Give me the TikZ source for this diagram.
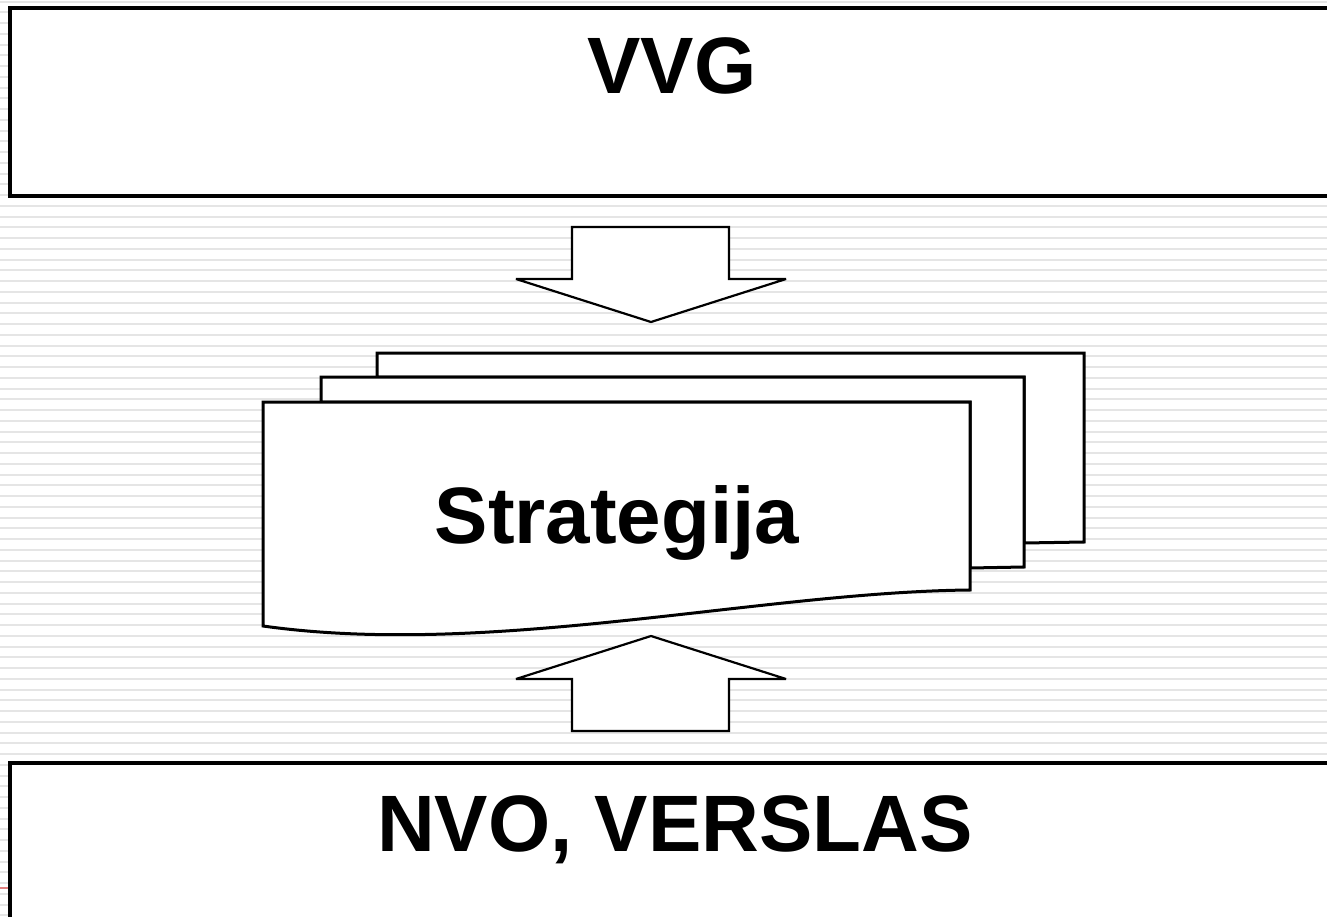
\documentclass[tikz,border=0pt]{standalone}
\usepackage{fontspec}
\setmainfont{Liberation Sans}
\begin{document}
\begin{tikzpicture}[x=1pt,y=-1pt,
  stripe/.style={draw=black!10,line width=2pt},
  boxline/.style={draw=black,line width=3.5pt,fill=white},
  shapeline/.style={draw=black,line width=3pt,fill=white,line join=miter},
  arrowline/.style={draw=black,line width=2.2pt,fill=white,line join=miter,miter limit=2},
  bigtext/.style={font=\fontsize{80}{96}\selectfont\bfseries,inner sep=0pt,anchor=base}]
\useasboundingbox (0,0) rectangle (1327,917);
\begin{scope}
\clip (0,0) rectangle (1327,917);
\fill[white] (0,0) rectangle (1327,917);
\foreach \k in {0,...,85} {
  \draw[stripe] (0,{1.7+10.75*\k}) -- (1327,{1.7+10.75*\k});
}
% top box
\draw[boxline] (10,8) rectangle (1345,196);
\node[bigtext] (vvg) at (672,94) {VVG};
% bottom box
\draw[boxline] (10,763) rectangle (1345,935);
\node[bigtext] (nvo) at (675,851) {NVO, VERSLAS};
\draw[draw={rgb,255:red,224;green,128;blue,128},line width=2pt] (0,888) -- (8,888);
% down arrow
\draw[arrowline] (572,227) -- (729,227) -- (729,279) -- (786,279) -- (651,322) -- (516,279) -- (572,279) -- cycle;
% up arrow
\draw[arrowline] (572,731) -- (729,731) -- (729,679) -- (786,679) -- (651,636) -- (516,679) -- (572,679) -- cycle;
% multidocument
\draw[shapeline] (377,353) -- (1084,353) -- (1084,542) -- (1024,543) -- (1024,377) -- (377,377) -- cycle;
\draw[shapeline] (321,377) -- (1024,377) -- (1024,567) -- (970,568) -- (970,402) -- (321,402) -- cycle;
\draw[shapeline] (263,402) -- (970,402) -- (970,590)
   .. controls (760,592) and (490,658) .. (263,626) -- cycle;
\node[bigtext] (strat) at (617,543) {Strategija};
\end{scope}
\end{tikzpicture}
\end{document}
